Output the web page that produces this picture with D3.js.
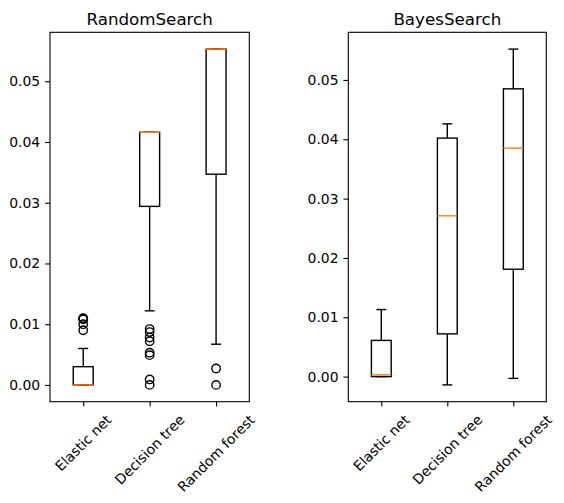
<!DOCTYPE html>
<html>
<head>
<meta charset="utf-8">
<script src="https://cdn.jsdelivr.net/npm/d3@7"></script>
<style>
  body { margin: 0; background: #fff; }
  svg { display: block; }
  text { font-family: "DejaVu Sans", sans-serif; fill: #000; }
</style>
</head>
<body>
<svg id="chart" width="564" height="503"></svg>
<script>
// models on the x axis
var models = ["Elastic net", "Decision tree", "Random forest"];
var titles = ["RandomSearch", "BayesSearch"];

// RandomSearch box stats, one per model
var rsQ1 = [0.0, 0.0294, 0.0347];
var rsMedian = [0.0, 0.0416, 0.0553];
var rsQ3 = [0.0030, 0.0416, 0.0553];
var rsWhiskLo = [0.0, 0.0122, 0.0067];
var rsWhiskHi = [0.0060, 0.0416, 0.0553];
var rsOutliers = [
    [0.0110, 0.0109, 0.0108, 0.0100, 0.0090],
    [0.0092, 0.0087, 0.0078, 0.0072, 0.0053, 0.0049, 0.0009, 0.0],
    [0.0027, 0.0]
];

// BayesSearch box stats
var bsQ1 = [0.0, 0.0072, 0.0181];
var bsMedian = [0.0003, 0.0271, 0.0385];
var bsQ3 = [0.0061, 0.0402, 0.0485];
var bsWhiskLo = [0.0, -0.0014, -0.0003];
var bsWhiskHi = [0.0113, 0.0426, 0.0552];
var bsOutliers = [[], [], []];

var yTicks = [0.0, 0.01, 0.02, 0.03, 0.04, 0.05];

var panels = [
    {title: titles[0], q1: rsQ1, med: rsMedian, q3: rsQ3, lo: rsWhiskLo, hi: rsWhiskHi, out: rsOutliers, x0: 50, x1: 249.3},
    {title: titles[1], q1: bsQ1, med: bsMedian, q3: bsQ3, lo: bsWhiskLo, hi: bsWhiskHi, out: bsOutliers, x0: 348.3, x1: 546.3}
];

var svg = d3.select("#chart");
var plotTop = 32.3, plotBottom = 401.7;
var lw = 1.4;

panels.forEach(function(p) {
    // matplotlib style autoscale with 5% margins
    var all = p.lo.concat(p.hi);
    p.out.forEach(function(o) { all = all.concat(o); });
    var mn = d3.min(all), mx = d3.max(all);
    var pad = (mx - mn) * 0.05;

    var x = d3.scaleLinear().domain([0.5, 3.5]).range([p.x0, p.x1]);
    var y = d3.scaleLinear().domain([mn - pad, mx + pad]).range([plotBottom, plotTop]);

    var g = svg.append("g");

    // y axis
    var yAxis = d3.axisLeft(y).tickValues(yTicks).tickFormat(d3.format(".2f")).tickSizeOuter(0).tickSize(4.9).tickPadding(4.9);
    var ya = g.append("g").attr("transform", "translate(" + p.x0 + ",0)").call(yAxis);
    ya.select(".domain").remove();
    ya.selectAll("line").attr("stroke", "#000").attr("stroke-width", 1.1);
    ya.selectAll("text").style("font-size", "13.9px").attr("font-family", "DejaVu Sans").attr("fill", "#000");

    // x axis ticks
    var xAxis = d3.axisBottom(x).tickValues([1, 2, 3]).tickFormat("").tickSizeOuter(0).tickSize(4.9);
    var xa = g.append("g").attr("transform", "translate(0," + plotBottom + ")").call(xAxis);
    xa.select(".domain").remove();
    xa.selectAll("line").attr("stroke", "#000").attr("stroke-width", 1.1);

    // rotated labels, bbox top-centre at tick like matplotlib
    var fs = 13.9;
    models.forEach(function(m, i) {
        var t = g.append("text")
            .style("font-size", fs + "px")
            .attr("text-anchor", "middle")
            .attr("dominant-baseline", "central")
            .text(m);
        var L = t.node().getComputedTextLength();
        var H = (L + fs * 1.17) * Math.SQRT1_2;
        t.attr("transform", "translate(" + x(i + 1) + "," + (plotBottom + 9.8 + H / 2) + ") rotate(-45)");
    });

    var bw = x(1.15) - x(1);   // half box width
    var cw = x(1.075) - x(1);  // half cap width

    models.forEach(function(m, i) {
        var cx = x(i + 1);
        // whiskers
        g.append("line").attr("x1", cx).attr("x2", cx).attr("y1", y(p.q3[i])).attr("y2", y(p.hi[i]))
            .attr("stroke", "#000").attr("stroke-width", lw);
        g.append("line").attr("x1", cx).attr("x2", cx).attr("y1", y(p.q1[i])).attr("y2", y(p.lo[i]))
            .attr("stroke", "#000").attr("stroke-width", lw);
        // caps
        [p.lo[i], p.hi[i]].forEach(function(v) {
            g.append("line").attr("x1", cx - cw).attr("x2", cx + cw).attr("y1", y(v)).attr("y2", y(v))
                .attr("stroke", "#000").attr("stroke-width", lw);
        });
        // box
        g.append("rect").attr("x", cx - bw).attr("width", 2 * bw)
            .attr("y", y(p.q3[i])).attr("height", y(p.q1[i]) - y(p.q3[i]))
            .attr("fill", "none").attr("stroke", "#000").attr("stroke-width", lw);
        // median
        g.append("line").attr("x1", cx - bw).attr("x2", cx + bw).attr("y1", y(p.med[i])).attr("y2", y(p.med[i]))
            .attr("stroke", "#ff7f0e").attr("stroke-width", lw);
        // fliers
        g.selectAll(null).data(p.out[i]).enter().append("circle")
            .attr("cx", cx).attr("cy", function(d) { return y(d); }).attr("r", 4.2)
            .attr("fill", "none").attr("stroke", "#000").attr("stroke-width", lw);
    });

    // frame
    g.append("rect").attr("x", p.x0).attr("y", plotTop).attr("width", p.x1 - p.x0).attr("height", plotBottom - plotTop)
        .attr("fill", "none").attr("stroke", "#000").attr("stroke-width", 1.1);

    // title
    g.append("text").attr("x", (p.x0 + p.x1) / 2).attr("y", 25)
        .attr("text-anchor", "middle").style("font-size", "16.7px").text(p.title);
});
</script>
</body>
</html>
